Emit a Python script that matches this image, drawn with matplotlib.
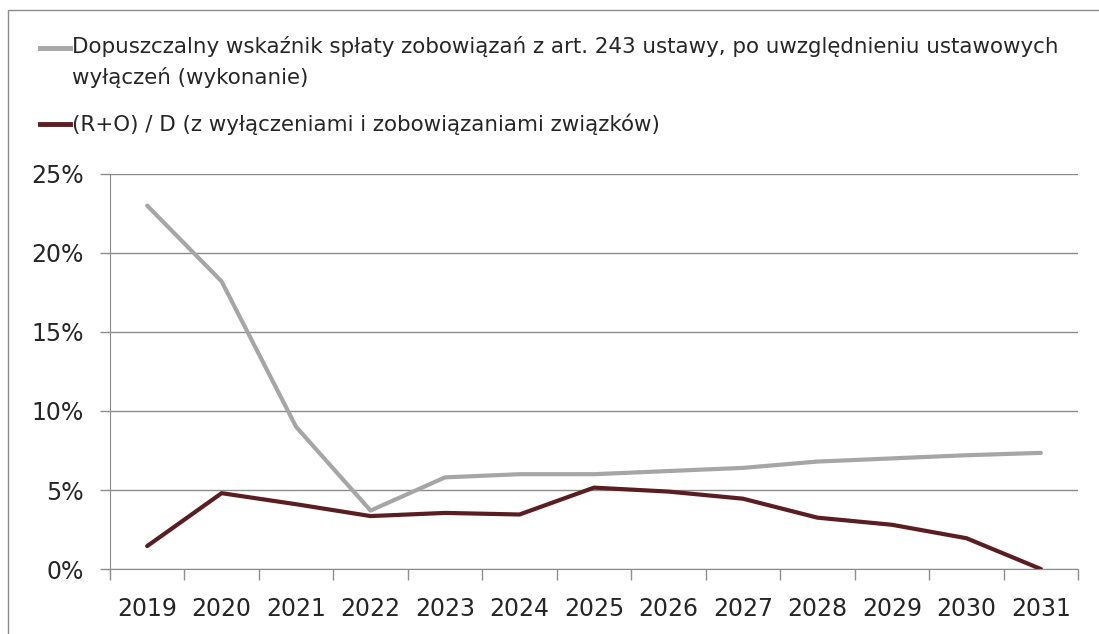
import matplotlib; matplotlib.use("Agg")
import matplotlib.pyplot as plt
from matplotlib.lines import Line2D
from matplotlib.patches import Rectangle
from matplotlib.ticker import FixedLocator, PercentFormatter

GRAY = "#A6A6A6"; MAROON = "#5A1E22"; GRID = "#8C8C8C"; TXT = "#262626"

years = ["2019", "2020", "2021", "2022", "2023", "2024", "2025",
         "2026", "2027", "2028", "2029", "2030", "2031"]
limit_ratio = [23.0, 18.2, 9.0, 3.7, 5.8, 6.0, 6.0, 6.2, 6.4, 6.8, 7.0, 7.2, 7.35]
debt_ratio = [1.45, 4.8, 4.1, 3.35, 3.55, 3.45, 5.15, 4.9, 4.45, 3.25, 2.8, 1.95, 0.0]

label_limit = ("Dopuszczalny wskaźnik spłaty zobowiązań z art. 243 ustawy, po uwzględnieniu ustawowych\n"
               "wyłączeń (wykonanie)")
label_debt = "(R+O) / D (z wyłączeniami i zobowiązaniami związków)"

fig = plt.figure(figsize=(10.99, 6.34), dpi=100)
ax = fig.add_axes([0.1, 0.1025, 0.881, 0.6231])

x = list(range(len(years)))
ax.plot(x, limit_ratio, color=GRAY, lw=3, solid_capstyle="round", zorder=3)
ax.plot(x, debt_ratio, color=MAROON, lw=3, solid_capstyle="round", zorder=4)

ax.set_xlim(-0.5, len(years) - 0.5)
ax.set_ylim(0, 25)
ax.yaxis.set_major_locator(FixedLocator([0, 5, 10, 15, 20, 25]))
ax.yaxis.set_major_formatter(PercentFormatter(decimals=0))
ax.set_xticks(x)
ax.set_xticklabels(years)
ax.set_xticks([i - 0.5 for i in range(len(years) + 1)], minor=True)
ax.tick_params(axis="x", which="major", length=0, pad=20)
ax.tick_params(axis="x", which="minor", length=8, color=GRID, width=1)
ax.tick_params(axis="y", length=7, color=GRID, width=1, pad=12)
for lab in ax.get_xticklabels() + ax.get_yticklabels():
    lab.set_fontsize(17); lab.set_color(TXT)

ax.grid(axis="y", color=GRID, lw=1)
ax.set_axisbelow(True)
for s in ["top", "right"]:
    ax.spines[s].set_visible(False)
ax.spines["left"].set_color(GRID)
ax.spines["bottom"].set_color(GRID)

# legend drawn by hand (handles align with first text line)
W, H = 1099, 634
def fx(px): return px / W
def fy(py): return 1 - py / H
fig.add_artist(Line2D([fx(40), fx(70)], [fy(48), fy(48)], color=GRAY, lw=3.5))
fig.text(fx(72), fy(36), label_limit, fontsize=15.4, color=TXT, va="top",
         ha="left", linespacing=1.6)
fig.add_artist(Line2D([fx(40), fx(70)], [fy(124), fy(124)], color=MAROON, lw=3.5))
fig.text(fx(72), fy(124), label_debt, fontsize=15.4, color=TXT, va="center", ha="left")

# outer chart frame
fig.add_artist(Rectangle((fx(8), -0.1), 1.2, fy(10) + 0.1, transform=fig.transFigure,
                         fill=False, ec="#8C8C8C", lw=1))

fig.savefig("out.png", dpi=100)
